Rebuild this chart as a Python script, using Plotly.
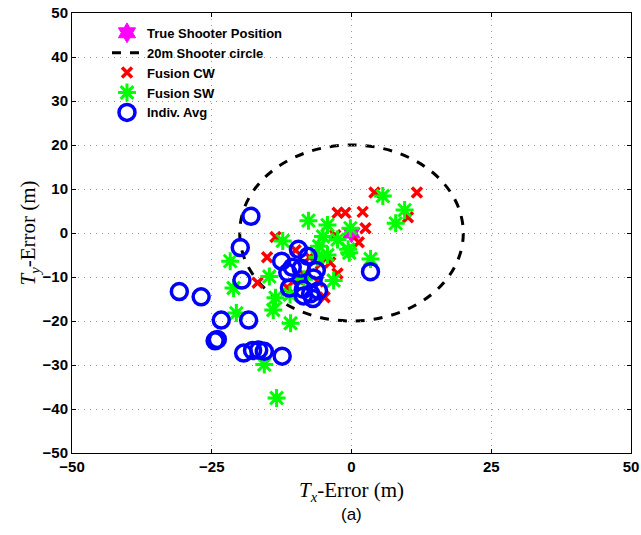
import plotly.graph_objects as go

# ---- data ----
shooter_x = [0.0]
shooter_y = [0.0]
shooter_radius = 20

cw_x = [11.7, 4.1, 10.1, -2.5, -1.1, 2.0, 2.5, -2.9, 1.3, -3.8, -2.5, -4.8,
        -13.6, -15.1, -16.8, -10.0, -11.5, -8.5, -6.0, -7.5, -5.5, -9.5]
cw_y = [9.2, 9.2, 3.6, 4.6, 4.6, 4.8, 1.1, -0.5, -2.1, -6.7, -9.2, -14.6,
        -0.9, -5.5, -11.3, -3.9, -12.4, -9.5, -11.0, -5.5, -7.0, -10.5]

sw_x = [5.6, 9.5, 7.9, -7.7, -4.3, -0.2, -5.1, -0.6, -5.8, 3.4, -4.3, -6.1,
        -12.3, -21.7, -21.1, -20.6, -14.7, -13.6, -14.0, -10.9, -3.2, -15.6,
        -13.4, -0.4, -8.5, -11.0, -2.5]
sw_y = [8.4, 5.2, 2.2, 2.8, 1.8, 1.1, -0.8, -3.7, -3.0, -5.9, -5.0, -5.5,
        -1.8, -6.4, -12.5, -18.2, -9.9, -14.7, -17.5, -20.5, -10.8, -29.9,
        -37.5, -4.5, -10.5, -14.0, -1.5]

avg_x = [-30.8, -26.9, -23.3, -24.4, -24.0, -19.9, -19.6, -18.0, -18.4, -19.3,
         -17.7, -16.6, -15.6, -12.4, -9.5, -12.5, -7.8, -10.6, -11.4, -9.0,
         -6.3, -6.8, -11.1, -8.6, -7.3, -5.9, -8.6, -6.9, 3.4]
avg_y = [-13.3, -14.5, -19.8, -24.5, -24.2, -3.3, -10.7, 3.8, -19.8, -27.3,
         -26.7, -26.6, -26.9, -28.0, -3.7, -6.4, -5.3, -7.8, -9.0, -8.0,
         -8.5, -10.2, -12.5, -12.8, -13.8, -13.1, -14.3, -14.9, -8.8]

x_ticks = [-50, -25, 0, 25, 50]
y_ticks = [-50, -40, -30, -20, -10, 0, 10, 20, 30, 40, 50]

fig = go.Figure()

fig.add_trace(go.Scatter(
    x=shooter_x, y=shooter_y, mode="markers", name="True Shooter Position",
    marker=dict(symbol="hexagram", size=15, color="magenta",
                line=dict(color="magenta", width=1))))
fig.add_trace(go.Scatter(
    x=[None], y=[None], mode="lines", name="20m Shooter circle",
    line=dict(color="black", width=3, dash="dash")))
fig.add_trace(go.Scatter(
    x=cw_x, y=cw_y, mode="markers", name="Fusion CW",
    marker=dict(symbol="x-thin-open", size=10, color="red",
                line=dict(color="red", width=3.5))))
fig.add_trace(go.Scatter(
    x=sw_x, y=sw_y, mode="markers", name="Fusion SW",
    marker=dict(symbol="asterisk-open", size=15, color="#00ff00",
                line=dict(color="#00ff00", width=3))))
fig.add_trace(go.Scatter(
    x=avg_x, y=avg_y, mode="markers", name="Indiv. Avg",
    marker=dict(symbol="circle-open", size=16, color="#0000ff",
                line=dict(color="#0000ff", width=3.5))))

fig.add_shape(type="circle", xref="x", yref="y",
              x0=-shooter_radius, x1=shooter_radius,
              y0=-shooter_radius, y1=shooter_radius,
              line=dict(color="black", width=3, dash="dash"), layer="below")

axis_common = dict(
    showline=True, linecolor="black", linewidth=1, mirror="ticks",
    ticks="inside", ticklen=4, tickcolor="black",
    showgrid=True, gridcolor="#999999", griddash="1px,5px", gridwidth=1,
    zeroline=False, automargin=False,
    tickfont=dict(family="Liberation Sans, Arial", size=15, color="black",
                  weight="bold"),
)

fig.update_xaxes(range=[-50, 50], tickvals=x_ticks,
                 ticktext=[("\u2212" + str(-v)) if v < 0 else str(v) for v in x_ticks],
                 title=dict(text="<i>T</i><sub><i>x</i></sub>-Error (m)",
                            font=dict(family="Liberation Serif, Times New Roman",
                                      size=21, color="black"),
                            standoff=8),
                 **axis_common)
fig.update_yaxes(range=[-50, 50], tickvals=y_ticks,
                 ticktext=[("\u2212" + str(-v)) if v < 0 else str(v) for v in y_ticks],
                 title=dict(text="<i>T</i><sub><i>y</i></sub>-Error (m)",
                            font=dict(family="Liberation Serif, Times New Roman",
                                      size=21, color="black"),
                            standoff=0),
                 **axis_common)

fig.add_annotation(text="(a)", xref="paper", yref="paper", x=0.5, y=-0.1409,
                   xanchor="center", yanchor="middle", showarrow=False,
                   font=dict(family="Liberation Sans, Arial", size=17, color="black"))

fig.update_layout(
    width=641, height=535,
    margin=dict(l=72, r=10, t=13, b=82),
    paper_bgcolor="white", plot_bgcolor="white",
    showlegend=True,
    legend=dict(x=0.0626, y=0.989, xanchor="left", yanchor="top",
                bgcolor="rgba(255,255,255,0)", borderwidth=0,
                font=dict(family="Liberation Sans, Arial", size=13,
                          color="black", weight="bold"),
                itemwidth=30, tracegroupgap=0),
)

fig.write_html("out.html",
               config={"displayModeBar": False},
               post_script="document.body.style.margin='0';"
                           "document.body.style.overflow='hidden';")
